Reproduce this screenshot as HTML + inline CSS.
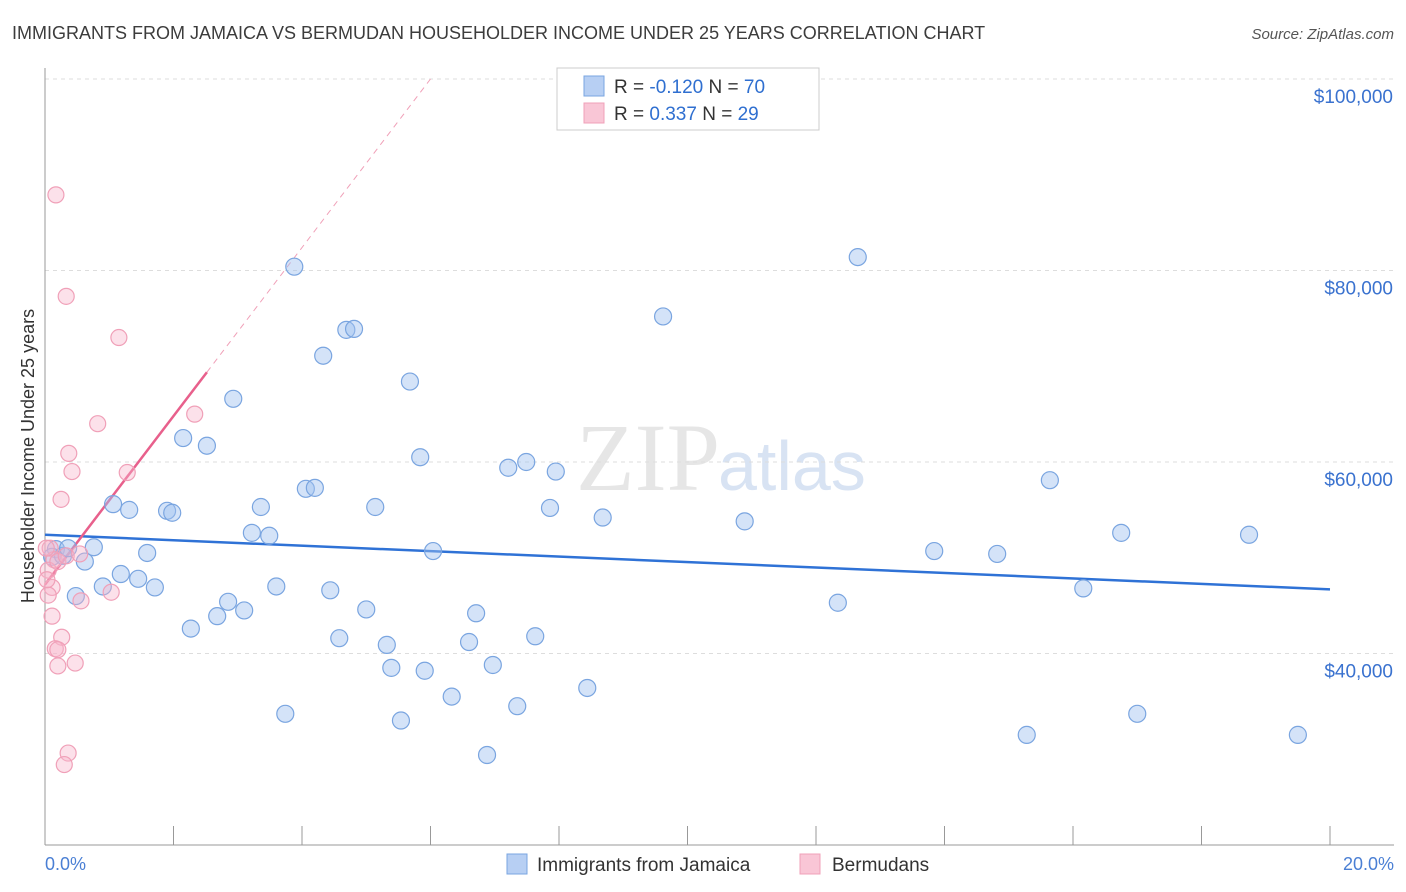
<!DOCTYPE html>
<html><head><meta charset="utf-8"><style>
body{margin:0;background:#fff;font-family:"Liberation Sans",sans-serif}
svg{display:block}
</style></head><body>
<svg id="chart" width="1406" height="892" xmlns="http://www.w3.org/2000/svg">
<text x="12" y="39" font-size="18" fill="#3c3c3c">IMMIGRANTS FROM JAMAICA VS BERMUDAN HOUSEHOLDER INCOME UNDER 25 YEARS CORRELATION CHART</text>
<text x="1394" y="39" font-size="15" font-style="italic" fill="#555" text-anchor="end">Source: ZipAtlas.com</text>
<text x="720" y="490" font-size="96" font-family="Liberation Serif" fill="#e6e6e6" text-anchor="end">ZIP</text>
<text x="718" y="490" font-size="70" fill="#d8e3f3">atlas</text>
<g id="grid"></g><g id="trend"></g><g id="pts"></g>
<text transform="translate(34,456) rotate(-90)" font-size="18" fill="#333" text-anchor="middle">Householder Income Under 25 years</text>
<text x="45" y="870" font-size="18" fill="#4a7fd4">0.0%</text>
<text x="1394" y="870" font-size="18" fill="#4a7fd4" text-anchor="end">20.0%</text>
<g>
<rect x="557" y="68" width="262" height="62" fill="#fff" stroke="#ccc"/>
<rect x="584" y="76" width="20" height="20" fill="#b7cff3" stroke="#7aa5e0"/>
<rect x="584" y="103" width="20" height="20" fill="#f9c6d6" stroke="#f0a0b8"/>
<text x="614" y="93" font-size="19" fill="#333">R = <tspan fill="#2f6fd0">-0.120</tspan>   N = <tspan fill="#2f6fd0">70</tspan></text>
<text x="614" y="120" font-size="19" fill="#333">R =  <tspan fill="#2f6fd0"> 0.337</tspan>   N = <tspan fill="#2f6fd0">29</tspan></text>
</g>
<g>
<rect x="507" y="854" width="20" height="20" fill="#b7cff3" stroke="#7aa5e0"/>
<text x="537" y="871" font-size="19" fill="#333">Immigrants from Jamaica</text>
<rect x="800" y="854" width="20" height="20" fill="#f9c6d6" stroke="#f0a0b8"/>
<text x="832" y="871" font-size="19" fill="#333">Bermudans</text>
</g>
</svg>
<script>
const yTicks=[40,60,80,100];
const yTickLabels=["$40,000","$60,000","$80,000","$100,000"];
const xTicks=[0,2,4,6,8,10,12,14,16,18,20];
const blueX=[0.17,0.11,0.28,0.36,0.62,0.76,0.48,0.90,1.06,1.18,1.31,1.45,1.59,1.71,1.90,1.98,2.15,2.27,2.52,2.68,2.85,2.93,3.10,3.22,3.36,3.49,3.60,3.74,3.88,4.06,4.20,4.33,4.44,4.58,4.69,4.81,5.00,5.14,5.32,5.39,5.54,5.68,5.84,5.91,6.04,6.33,6.60,6.71,6.88,6.97,7.21,7.35,7.49,7.63,7.86,7.95,8.44,8.68,9.62,10.89,12.34,12.65,13.84,14.82,15.28,15.64,16.16,16.75,17.00,18.74,19.50];
const blueY=[50.9,50.1,50.2,51.0,49.6,51.1,46.0,47.0,55.6,48.3,55.0,47.8,50.5,46.9,54.9,54.7,62.5,42.6,61.7,43.9,45.4,66.6,44.5,52.6,55.3,52.3,47.0,33.7,80.4,57.2,57.3,71.1,46.6,41.6,73.8,73.9,44.6,55.3,40.9,38.5,33.0,68.4,60.5,38.2,50.7,35.5,41.2,44.2,29.4,38.8,59.4,34.5,60.0,41.8,55.2,59.0,36.4,54.2,75.2,53.8,45.3,81.4,50.7,50.4,31.5,58.1,46.8,52.6,33.7,52.4,31.5];
const pinkX=[0.17,0.33,1.15,0.82,0.37,0.42,1.28,2.33,0.25,0.08,0.14,0.05,0.20,0.33,0.54,0.11,0.05,0.56,1.03,0.11,0.26,0.16,0.20,0.47,0.36,0.30,0.02,0.03,0.20];
const pinkY=[87.9,77.3,73.0,64.0,60.9,59.0,58.9,65.0,56.1,51.0,49.8,48.7,49.6,50.2,50.4,46.9,46.1,45.5,46.4,43.9,41.7,40.5,38.7,39.0,29.6,28.4,51.0,47.7,40.4];
const blueTrend=[52.4,46.7];
const pinkTrend=[47.2,8.8];
const X=v=>45+v*64.25, Y=v=>79+(100-v)*9.575;
const NS="http://www.w3.org/2000/svg";
function mk(t,a,p){const e=document.createElementNS(NS,t);for(const k in a)e.setAttribute(k,a[k]);p.appendChild(e);return e;}
const g=document.getElementById('grid');
yTicks.forEach((t,i)=>{
 const l=mk('line',{x1:45,x2:1394,y1:Y(t),y2:Y(t),stroke:'#ddd','stroke-dasharray':'4,4'},g);
 
 
 const tx=mk('text',{x:1393,y:Y(t)+24,'font-size':19,fill:'#3a72cf','text-anchor':'end'},g);
 tx.textContent=yTickLabels[i];
 
 
});
const ax=mk('line',{x1:45,x2:45,y1:68,y2:845,stroke:'#999'},g);


const bx=mk('line',{x1:45,x2:1394,y1:845,y2:845,stroke:'#999'},g);


xTicks.forEach(t=>{
 const l=mk('line',{x1:X(t),x2:X(t),y1:826,y2:845,stroke:'#999'},g);
 
 
});
const tr=document.getElementById('trend');
const b=mk('line',{x1:X(0),y1:Y(blueTrend[0]),x2:X(20),y2:Y(blueTrend[1]),stroke:'#2f72d6','stroke-width':2.5},tr);


const pe=2.52, pd=(100-pinkTrend[0])/pinkTrend[1];
const p1=mk('line',{x1:X(0),y1:Y(pinkTrend[0]),x2:X(pe),y2:Y(pinkTrend[0]+pinkTrend[1]*pe),stroke:'#e8608c','stroke-width':2.5},tr);


const p2=mk('line',{x1:X(pe),y1:Y(pinkTrend[0]+pinkTrend[1]*pe),x2:X(pd),y2:Y(100),stroke:'#f0a0b8','stroke-width':1,'stroke-dasharray':'6,5'},tr);


const pts=document.getElementById('pts');
blueX.forEach((x,i)=>{
 const c=mk('circle',{cx:X(x),cy:Y(blueY[i]),r:8.5,fill:'rgba(160,192,240,0.45)',stroke:'#7aa5e0','stroke-width':1.2},pts);
 
 
});
pinkX.forEach((x,i)=>{
 const c=mk('circle',{cx:X(x),cy:Y(pinkY[i]),r:8,fill:'rgba(247,180,202,0.4)',stroke:'#f0a0b8','stroke-width':1.2},pts);
 
 
});
</script>
</body></html>
